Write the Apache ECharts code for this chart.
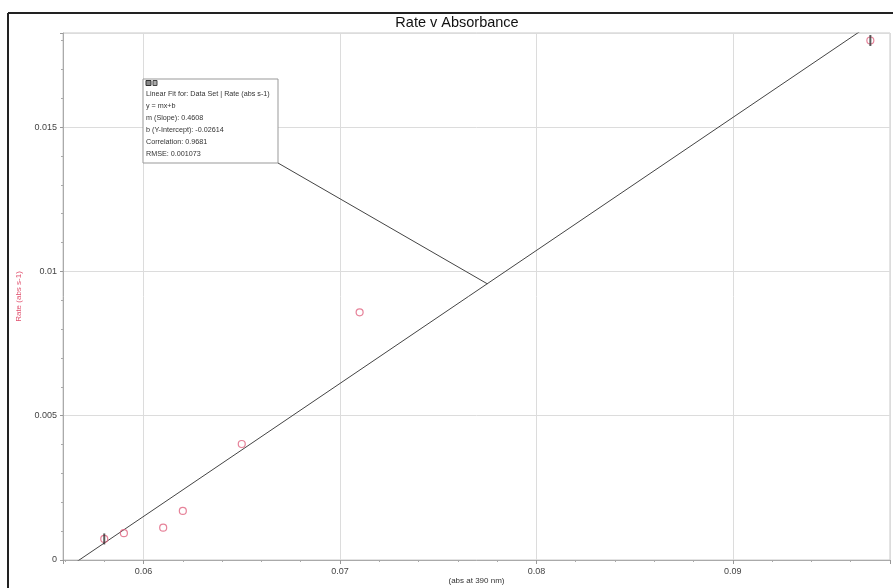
<!DOCTYPE html>
<html>
<head>
<meta charset="utf-8">
<script src="https://cdn.jsdelivr.net/npm/echarts@6/dist/echarts.min.js"></script>
<style>
html,body{margin:0;padding:0;background:#fff;}
#chart{width:893px;height:588px;}
</style>
</head>
<body>
<div id="chart"></div>
<script>
// ---- data ----
const absorbance = [0.058, 0.059, 0.061, 0.062, 0.065, 0.071, 0.097];
const rate = [0.00073, 0.00093, 0.00112, 0.0017, 0.00402, 0.00858, 0.0180];
const fitLineX = [0.0559, 0.0980];
const fitLineY = [-0.00038, 0.01902];
const fitRangeX = [0.058, 0.097];
const fitRangeY = [0.00073, 0.0180];
const leaderEnd = [0.0775, 0.00957];
const xTickLabels = ['0.06', '0.07', '0.08', '0.09'];
const yTickLabels = ['0', '0.005', '0.01', '0.015'];
const annotationLines = [
  'Linear Fit for: Data Set | Rate (abs s-1)',
  'y = mx+b',
  'm (Slope): 0.4608',
  'b (Y-Intercept): -0.02614',
  'Correlation: 0.9681',
  'RMSE: 0.001073'
];

const FONT = '"Liberation Sans", Arial, Helvetica, sans-serif';
const pointData = absorbance.map((x, i) => [x, rate[i]]);
const fitData = fitLineX.map((x, i) => [x, fitLineY[i]]);
const rangeData = fitRangeX.map((x, i) => [x, fitRangeY[i]]);

const chart = echarts.init(document.getElementById('chart'), null, {renderer: 'canvas'});

const annTexts = annotationLines.map((t, i) => ({
  type: 'text', left: 146, top: 90.5 + i * 12, z: 101,
  style: {text: t, fontSize: 7.2, fontFamily: FONT, fill: '#333'}
}));

const option = {
  backgroundColor: '#fff',
  animation: false,
  title: {
    text: 'Rate v Absorbance',
    left: 452, top: 10, textAlign: 'center',
    textStyle: {fontSize: 14.5, fontWeight: 'normal', color: '#111', fontFamily: FONT}
  },
  grid: {left: 63, top: 33, right: 3, bottom: 28, show: true, borderColor: '#c8c8c8', borderWidth: 1,
         containLabel: false, outerBoundsMode: 'none'},
  xAxis: {
    type: 'value', min: 0.0559, max: 0.098, splitNumber: 4, minInterval: 0.01, maxInterval: 0.01,
    name: '(abs at 390 nm)', nameLocation: 'middle', nameGap: 17, nameMoveOverlap: false,
    nameTextStyle: {fontSize: 8, color: '#333', fontFamily: FONT},
    axisLine: {onZero: false, lineStyle: {color: '#aaa'}},
    axisTick: {show: true, length: 4, lineStyle: {color: '#999'}},
    minorTick: {show: true, splitNumber: 5, length: 2, lineStyle: {color: '#aaa'}},
    splitLine: {show: true, lineStyle: {color: '#dcdcdc'}},
    axisLabel: {
      fontSize: 9, color: '#444', fontFamily: FONT, margin: 7,
      showMinLabel: false, showMaxLabel: false,
      formatter: v => { const s = v.toFixed(2); return xTickLabels.includes(s) && Math.abs(v - parseFloat(s)) < 1e-9 ? s : ''; }
    }
  },
  yAxis: {
    type: 'value', min: 0, max: 0.01826, interval: 0.005,
    name: 'Rate (abs s-1)', nameLocation: 'middle', nameGap: 40, nameRotate: 90, nameMoveOverlap: false,
    nameTextStyle: {fontSize: 8, color: '#e0506e', fontFamily: FONT},
    axisLine: {show: true, lineStyle: {color: '#aaa'}},
    axisTick: {show: true, length: 3, lineStyle: {color: '#999'}},
    minorTick: {show: true, splitNumber: 5, length: 2, lineStyle: {color: '#aaa'}},
    splitLine: {show: true, lineStyle: {color: '#dcdcdc'}},
    axisLabel: {
      fontSize: 9, color: '#444', fontFamily: FONT, margin: 6, showMaxLabel: false,
      formatter: v => { const s = String(+v.toFixed(4)); return yTickLabels.includes(s) ? s : ''; }
    }
  },
  series: [
    {
      type: 'line', data: fitData, symbol: 'none', clip: true,
      lineStyle: {color: '#444', width: 1}, z: 3
    },
    {
      type: 'scatter', data: pointData, symbol: 'circle', symbolSize: 7,
      itemStyle: {color: 'rgba(255,255,255,0)', borderColor: '#e0637f', borderWidth: 1.2}, z: 4
    },
    {
      type: 'scatter', data: rangeData, symbol: 'rect', symbolSize: [2, 11],
      itemStyle: {color: '#333'}, z: 5
    }
  ],
  graphic: []
};
chart.setOption(option);

const endPx = chart.convertToPixel({xAxisIndex: 0, yAxisIndex: 0}, leaderEnd);
chart.setOption({
  graphic: [
    {type: 'line', shape: {x1: 8, y1: 13, x2: 893, y2: 13}, style: {stroke: '#222', lineWidth: 2}, z: 100},
    {type: 'line', shape: {x1: 8, y1: 13, x2: 8, y2: 588}, style: {stroke: '#222', lineWidth: 2}, z: 100},
    {type: 'line', shape: {x1: 278, y1: 163, x2: endPx[0], y2: endPx[1]}, style: {stroke: '#444', lineWidth: 1}, z: 99},
    {type: 'rect', shape: {x: 143, y: 79, width: 135, height: 84}, style: {fill: '#fff', stroke: '#999', lineWidth: 1}, z: 100},
    {type: 'rect', shape: {x: 146, y: 80.5, width: 5, height: 5}, style: {fill: '#888', stroke: '#333', lineWidth: 1}, z: 101},
    {type: 'rect', shape: {x: 153, y: 80.5, width: 4, height: 5}, style: {fill: '#aaa', stroke: '#444', lineWidth: 1}, z: 101}
  ].concat(annTexts)
});
</script>
</body>
</html>
